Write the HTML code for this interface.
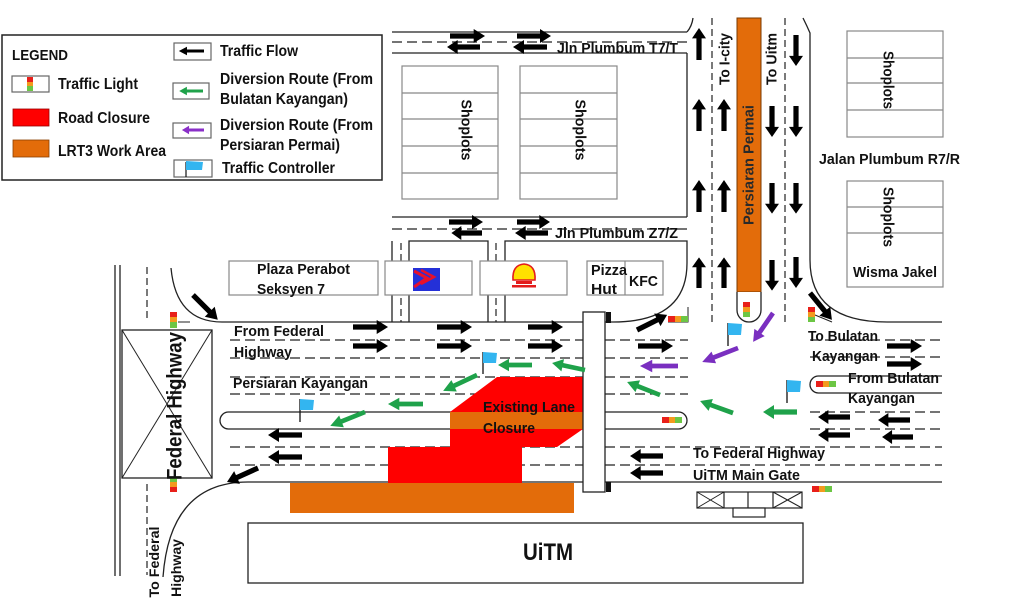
<!DOCTYPE html>
<html><head><meta charset="utf-8"><style>
html,body{margin:0;padding:0;background:#fff;}
svg{display:block;}
text{font-family:"Liberation Sans",Arial,sans-serif;font-weight:bold;fill:#111;}
</style></head><body>
<svg width="1024" height="609" viewBox="0 0 1024 609" xmlns="http://www.w3.org/2000/svg">
<defs>
<path id="ar" d="M0,-2.6 H23 V-7 L34,0 L23,7 V2.6 H0 Z"/>
</defs>
<rect width="1024" height="609" fill="#fff"/>

<!-- LEGEND -->
<rect x="2" y="35" width="380" height="145" fill="#fff" stroke="#222" stroke-width="1.5"/>
<text x="12" y="60" font-size="15" textLength="56" lengthAdjust="spacingAndGlyphs">LEGEND</text>
<rect x="12" y="76" width="37" height="16" fill="#fff" stroke="#666" stroke-width="1.2"/>
<rect x="27" y="77" width="6" height="5" fill="#e8201a"/><rect x="27" y="82" width="6" height="4" fill="#f39a1e"/><rect x="27" y="86" width="6" height="5" fill="#6cc644"/>
<text x="58" y="89" font-size="16" textLength="80" lengthAdjust="spacingAndGlyphs">Traffic Light</text>
<rect x="13" y="109" width="36" height="17" fill="#ff0000" stroke="#900" stroke-width="0.8"/>
<text x="58" y="123" font-size="16" textLength="92" lengthAdjust="spacingAndGlyphs">Road Closure</text>
<rect x="13" y="140" width="36" height="17" fill="#e36c0a" stroke="#8a4000" stroke-width="0.8"/>
<text x="58" y="156" font-size="16" textLength="108" lengthAdjust="spacingAndGlyphs">LRT3 Work Area</text>

<rect x="174" y="43" width="37" height="17" fill="#fff" stroke="#666" stroke-width="1.2"/>
<use href="#ar" fill="#000" transform="translate(204,51) rotate(180) scale(0.74,0.6)"/>
<text x="220" y="56" font-size="16" textLength="78" lengthAdjust="spacingAndGlyphs">Traffic Flow</text>
<rect x="173" y="83" width="36" height="16" fill="#fff" stroke="#666" stroke-width="1.2"/>
<use href="#ar" fill="#1fa24a" transform="translate(203,91) rotate(180) scale(0.7,0.6)"/>
<text x="220" y="84" font-size="16" textLength="153" lengthAdjust="spacingAndGlyphs">Diversion Route (From</text>
<text x="220" y="104" font-size="16" textLength="128" lengthAdjust="spacingAndGlyphs">Bulatan Kayangan)</text>
<rect x="173" y="123" width="38" height="15" fill="#fff" stroke="#666" stroke-width="1.2"/>
<use href="#ar" fill="#8a2fc8" transform="translate(204,130) rotate(180) scale(0.65,0.6)"/>
<text x="220" y="130" font-size="16" textLength="153" lengthAdjust="spacingAndGlyphs">Diversion Route (From</text>
<text x="220" y="150" font-size="16" textLength="120" lengthAdjust="spacingAndGlyphs">Persiaran Permai)</text>
<rect x="174" y="160" width="38" height="17" fill="#fff" stroke="#666" stroke-width="1.2"/>
<line x1="186" y1="162" x2="186" y2="177" stroke="#111" stroke-width="1.2"/>
<path d="M186,161 L203,162 L202,170 L186,170 Z" fill="#33b5f0"/>
<text x="222" y="173" font-size="16" textLength="113" lengthAdjust="spacingAndGlyphs">Traffic Controller</text>

<!-- ROAD LINES -->
<g stroke="#222" stroke-width="1.3" fill="none">
  <!-- T7/T road -->
  <line x1="392" y1="32" x2="687" y2="32"/>
  <line x1="392" y1="53" x2="687" y2="53"/>
  <path d="M687,32 Q692,26 693,18"/>
  <line x1="687" y1="53" x2="687" y2="217"/>
  <line x1="392" y1="217" x2="687" y2="217"/>
  <!-- blocks below Z7/Z -->
  <path d="M392,322 V241"/>
  <path d="M409,322 V241 H488 V322"/>
  <path d="M505,322 V241 H687 V263"/>
  <!-- main road top -->
  <path d="M171,268 Q176,322 222,322 H613 Q687,322 687,263"/>
  <!-- right side -->
  <path d="M803,18 Q807,26 810,33 V260 Q810,322 887,322 H942"/>
  <!-- main road bottom -->
  <path d="M942,482 H248 Q170,482 163,577"/>
  <!-- west capsule -->
  <path d="M228.5,412 H678.5 A8.5,8.5 0 0 1 678.5,429 H228.5 A8.5,8.5 0 0 1 228.5,412 Z" fill="#fff"/>
  <!-- east capsule -->
  <path d="M942,376 H818.5 A8.5,8.5 0 0 0 818.5,393 H942"/>
  <!-- Federal highway -->
  <line x1="115" y1="265" x2="115" y2="576"/>
  <line x1="120" y1="265" x2="120" y2="576"/>
  <rect x="122" y="330" width="90" height="148"/>
  <line x1="122" y1="330" x2="212" y2="478" stroke-width="1"/>
  <line x1="212" y1="330" x2="122" y2="478" stroke-width="1"/>
  <!-- traffic-light stop lines -->
  <path d="M178,322 H190" stroke-width="1"/>
  <path d="M178,478 H190" stroke-width="1"/>
  <path d="M688,307 V322 H668" stroke-width="1"/>
  <path d="M815,315 L832,322" stroke-width="1"/>
</g>

<!-- DASHED LINES -->
<g stroke="#222" stroke-width="1.2" fill="none" stroke-dasharray="10,5">
  <line x1="392" y1="42" x2="687" y2="42"/>
  <line x1="392" y1="229" x2="687" y2="229"/>
  <line x1="230" y1="340" x2="688" y2="340"/>
  <line x1="230" y1="358" x2="688" y2="358"/>
  <line x1="230" y1="377" x2="688" y2="377"/>
  <line x1="230" y1="394" x2="688" y2="394"/>
  <line x1="230" y1="447" x2="942" y2="447"/>
  <line x1="230" y1="465" x2="942" y2="465"/>
  <line x1="810" y1="340" x2="942" y2="340"/>
  <line x1="810" y1="357" x2="942" y2="357"/>
  <line x1="810" y1="412" x2="942" y2="412"/>
  <line x1="810" y1="429" x2="942" y2="429"/>
</g>
<g stroke="#222" stroke-width="1.2" fill="none" stroke-dasharray="7,4">
  <line x1="712" y1="18" x2="712" y2="322"/>
  <line x1="785" y1="18" x2="785" y2="322"/>
  <line x1="401" y1="243" x2="401" y2="322"/>
  <line x1="496" y1="243" x2="496" y2="322"/>
  <line x1="147" y1="267" x2="147" y2="322"/>
  <line x1="147" y1="484" x2="147" y2="575"/>
</g>

<!-- Persiaran Permai median -->
<rect x="737" y="18" width="24" height="274" fill="#e36c0a" stroke="#7a3a00" stroke-width="1"/>
<path d="M737,292 V310 A12,12 0 0 0 761,310 V292" fill="#fff" stroke="#222" stroke-width="1.3"/>

<!-- SHOPLOTS -->
<g stroke="#888" stroke-width="1.2" fill="#fff">
  <rect x="402" y="66" width="96" height="133"/>
  <path d="M402,93 H498 M402,119 H498 M402,146 H498 M402,173 H498"/>
  <rect x="520" y="66" width="97" height="133"/>
  <path d="M520,93 H617 M520,119 H617 M520,146 H617 M520,173 H617"/>
  <rect x="847" y="31" width="96" height="106"/>
  <path d="M847,58 H943 M847,83 H943 M847,110 H943"/>
  <rect x="847" y="181" width="96" height="106"/>
  <path d="M847,207 H943 M847,233 H943"/>
  <rect x="229" y="261" width="149" height="34"/>
  <rect x="385" y="261" width="87" height="34"/>
  <rect x="480" y="261" width="87" height="34"/>
  <rect x="587" y="261" width="76" height="34"/>
  <line x1="625" y1="261" x2="625" y2="295"/>
</g>

<!-- logos -->
<rect x="413" y="268" width="27" height="23" fill="#2430d8"/>
<path d="M414,271 L427,278 L414,287" stroke="#e8102a" stroke-width="3" fill="none"/>
<path d="M421,270 L434,277 L421,284" stroke="#e8102a" stroke-width="2.5" fill="none"/>
<path d="M513,280 Q512,265 524,264 Q536,265 535,280 Z" fill="#ffe100" stroke="#e31c1c" stroke-width="1.6"/>
<rect x="516" y="281" width="16" height="3" fill="#e31c1c"/>
<rect x="512" y="285" width="24" height="2.5" fill="#e31c1c"/>

<!-- ROAD CLOSURE / LRT -->
<polygon points="450,412 497,377 583,377 583,429 557,447 522,447 522,483 388,483 388,447 450,447" fill="#ff0000"/>
<rect x="450" y="412" width="133" height="17" fill="#e36c0a"/>
<rect x="290" y="483" width="284" height="30" fill="#e36c0a"/>

<!-- Bridge -->
<rect x="583" y="312" width="22" height="180" fill="#fff" stroke="#222" stroke-width="1.3"/>
<rect x="606" y="312" width="5" height="11" fill="#111"/>
<rect x="606" y="482" width="5" height="10" fill="#111"/>

<!-- UiTM -->
<rect x="248" y="523" width="555" height="60" fill="#fff" stroke="#222" stroke-width="1.3"/>
<text x="548" y="560" font-size="24" text-anchor="middle" textLength="50" lengthAdjust="spacingAndGlyphs">UiTM</text>
<g stroke="#222" stroke-width="1.2" fill="#fff">
  <rect x="697" y="492" width="105" height="16"/>
  <path d="M724,492 V508 M748,492 V508 M773,492 V508"/>
  <path d="M697,492 L724,508 M724,492 L697,508 M773,492 L802,508 M802,492 L773,508" stroke-width="1"/>
  <rect x="733" y="508" width="32" height="9"/>
</g>

<!-- TRAFFIC LIGHTS -->
<g>
  <rect x="170" y="312" width="7" height="5" fill="#e8201a"/><rect x="170" y="317" width="7" height="5" fill="#f39a1e"/><rect x="170" y="322" width="7" height="6" fill="#6cc644"/>
  <rect x="170" y="477" width="7" height="5" fill="#6cc644"/><rect x="170" y="482" width="7" height="5" fill="#f39a1e"/><rect x="170" y="487" width="7" height="5" fill="#e8201a"/>
  <rect x="743" y="302" width="7" height="5" fill="#e8201a"/><rect x="743" y="307" width="7" height="5" fill="#f39a1e"/><rect x="743" y="312" width="7" height="5" fill="#6cc644"/>
  <rect x="808" y="307" width="7" height="5" fill="#e8201a"/><rect x="808" y="312" width="7" height="5" fill="#f39a1e"/><rect x="808" y="317" width="7" height="5" fill="#6cc644"/>
  <rect x="668" y="316" width="7" height="6" fill="#e8201a"/><rect x="675" y="316" width="6" height="6" fill="#f39a1e"/><rect x="681" y="316" width="7" height="6" fill="#6cc644"/>
  <rect x="816" y="381" width="7" height="6" fill="#e8201a"/><rect x="823" y="381" width="6" height="6" fill="#f39a1e"/><rect x="829" y="381" width="7" height="6" fill="#6cc644"/>
  <rect x="662" y="417" width="7" height="6" fill="#e8201a"/><rect x="669" y="417" width="6" height="6" fill="#f39a1e"/><rect x="675" y="417" width="7" height="6" fill="#6cc644"/>
  <rect x="812" y="486" width="7" height="6" fill="#e8201a"/><rect x="819" y="486" width="6" height="6" fill="#f39a1e"/><rect x="825" y="486" width="7" height="6" fill="#6cc644"/>
</g>

<!-- FLAGS -->
<g stroke="#111" stroke-width="1.3">
  <line x1="728" y1="323" x2="728" y2="346"/>
  <line x1="787" y1="380" x2="787" y2="403"/>
  <line x1="483" y1="352" x2="483" y2="374"/>
  <line x1="300" y1="399" x2="300" y2="422"/>
</g>
<g fill="#33b5f0">
  <path d="M728,323 L742,324 L741,335 L728,335 Z"/>
  <path d="M787,380 L801,381 L800,392 L787,392 Z"/>
  <path d="M483,352 L497,353 L496,363 L483,363 Z"/>
  <path d="M300,399 L314,400 L313,410 L300,410 Z"/>
</g>

<!-- BLACK ARROWS -->
<g fill="#000">
  <use href="#ar" transform="translate(450,36) scale(1.03,1)"/>
  <use href="#ar" transform="translate(517,36)"/>
  <use href="#ar" transform="translate(480,47) rotate(180) scale(0.97,1)"/>
  <use href="#ar" transform="translate(547,47) rotate(180)"/>
  <use href="#ar" transform="translate(449,222)"/>
  <use href="#ar" transform="translate(517,222) scale(0.97,1)"/>
  <use href="#ar" transform="translate(482,233) rotate(180) scale(0.9,1)"/>
  <use href="#ar" transform="translate(548,233) rotate(180) scale(0.97,1)"/>
  <use href="#ar" transform="translate(353,327) scale(1.03,1)"/>
  <use href="#ar" transform="translate(437,327) scale(1.03,1)"/>
  <use href="#ar" transform="translate(528,327) scale(1.03,1)"/>
  <use href="#ar" transform="translate(353,346) scale(1.03,1)"/>
  <use href="#ar" transform="translate(437,346) scale(1.03,1)"/>
  <use href="#ar" transform="translate(528,346) scale(1.03,1)"/>
  <use href="#ar" transform="translate(638,346) scale(1.03,1)"/>
  <use href="#ar" transform="translate(887,346) scale(1.03,1)"/>
  <use href="#ar" transform="translate(887,364) scale(1.03,1)"/>
  <use href="#ar" transform="translate(850,417) rotate(180) scale(0.94,1)"/>
  <use href="#ar" transform="translate(910,420) rotate(180) scale(0.94,1)"/>
  <use href="#ar" transform="translate(850,435) rotate(180) scale(0.94,1)"/>
  <use href="#ar" transform="translate(913,437) rotate(180) scale(0.91,1)"/>
  <use href="#ar" transform="translate(663,456) rotate(180) scale(0.97,1)"/>
  <use href="#ar" transform="translate(663,473) rotate(180) scale(0.97,1)"/>
  <use href="#ar" transform="translate(302,435) rotate(180)"/>
  <use href="#ar" transform="translate(302,457) rotate(180)"/>
  <use href="#ar" transform="translate(193,295) rotate(45) scale(1.03,1)"/>
  <use href="#ar" transform="translate(637,330) rotate(-26.6) scale(0.99,1)"/>
  <use href="#ar" transform="translate(810,293) rotate(50.8) scale(1.02,1)"/>
  <use href="#ar" transform="translate(258,468) rotate(155.7)"/>
  <use href="#ar" transform="translate(699,60) rotate(-90) scale(0.94,1)"/>
  <use href="#ar" transform="translate(699,131) rotate(-90) scale(0.94,1)"/>
  <use href="#ar" transform="translate(699,212) rotate(-90) scale(0.94,1)"/>
  <use href="#ar" transform="translate(699,288) rotate(-90) scale(0.9,1)"/>
  <use href="#ar" transform="translate(724,131) rotate(-90) scale(0.94,1)"/>
  <use href="#ar" transform="translate(724,212) rotate(-90) scale(0.94,1)"/>
  <use href="#ar" transform="translate(724,288) rotate(-90) scale(0.9,1)"/>
  <use href="#ar" transform="translate(772,106) rotate(90) scale(0.91,1)"/>
  <use href="#ar" transform="translate(772,183) rotate(90) scale(0.9,1)"/>
  <use href="#ar" transform="translate(772,260) rotate(90) scale(0.9,1)"/>
  <use href="#ar" transform="translate(796,35) rotate(90) scale(0.91,1)"/>
  <use href="#ar" transform="translate(796,106) rotate(90) scale(0.91,1)"/>
  <use href="#ar" transform="translate(796,183) rotate(90) scale(0.9,1)"/>
  <use href="#ar" transform="translate(796,257) rotate(90) scale(0.91,1)"/>
</g>

<!-- GREEN ARROWS -->
<g fill="#1fa24a">
  <use href="#ar" transform="translate(797,412) rotate(180)"/>
  <use href="#ar" transform="translate(733,413) rotate(200) scale(1.03,0.9)"/>
  <use href="#ar" transform="translate(660,395) rotate(201.5) scale(1.04,0.9)"/>
  <use href="#ar" transform="translate(585,370) rotate(192) scale(0.99,0.9)"/>
  <use href="#ar" transform="translate(532,365) rotate(180) scale(1,0.9)"/>
  <use href="#ar" transform="translate(477,375) rotate(154.8) scale(1.1,0.9)"/>
  <use href="#ar" transform="translate(423,404) rotate(180) scale(1.03,0.9)"/>
  <use href="#ar" transform="translate(365,412) rotate(158.2) scale(1.1,0.9)"/>
</g>

<!-- PURPLE ARROWS -->
<g fill="#7a2fc0">
  <use href="#ar" transform="translate(773,313) rotate(124.6) scale(1.03,0.9)"/>
  <use href="#ar" transform="translate(738,348) rotate(158.7) scale(1.13,0.9)"/>
  <use href="#ar" transform="translate(678,366) rotate(180) scale(1.12,0.9)"/>
</g>

<!-- MAP LABELS -->
<g font-size="15">
  <text x="557" y="53" textLength="121" lengthAdjust="spacingAndGlyphs">Jln Plumbum T7/T</text>
  <text x="555" y="238" textLength="123" lengthAdjust="spacingAndGlyphs">Jln Plumbum Z7/Z</text>
  <text x="257" y="274" textLength="93" lengthAdjust="spacingAndGlyphs">Plaza Perabot</text>
  <text x="257" y="294" textLength="68" lengthAdjust="spacingAndGlyphs">Seksyen 7</text>
  <text x="591" y="275" textLength="36" lengthAdjust="spacingAndGlyphs">Pizza</text>
  <text x="591" y="294" textLength="26" lengthAdjust="spacingAndGlyphs">Hut</text>
  <text x="629" y="286" textLength="29" lengthAdjust="spacingAndGlyphs">KFC</text>
  <text x="819" y="164" textLength="141" lengthAdjust="spacingAndGlyphs">Jalan Plumbum R7/R</text>
  <text x="853" y="277" textLength="84" lengthAdjust="spacingAndGlyphs">Wisma Jakel</text>
  <text x="234" y="336" textLength="90" lengthAdjust="spacingAndGlyphs">From Federal</text>
  <text x="234" y="357" textLength="58" lengthAdjust="spacingAndGlyphs">Highway</text>
  <text x="233" y="388" textLength="135" lengthAdjust="spacingAndGlyphs">Persiaran Kayangan</text>
  <text x="483" y="412" textLength="92" lengthAdjust="spacingAndGlyphs">Existing Lane</text>
  <text x="483" y="433" textLength="52" lengthAdjust="spacingAndGlyphs">Closure</text>
  <text x="808" y="341" textLength="70" lengthAdjust="spacingAndGlyphs">To Bulatan</text>
  <text x="812" y="361" textLength="66" lengthAdjust="spacingAndGlyphs">Kayangan</text>
  <text x="848" y="383" textLength="91" lengthAdjust="spacingAndGlyphs">From Bulatan</text>
  <text x="848" y="403" textLength="67" lengthAdjust="spacingAndGlyphs">Kayangan</text>
  <text x="693" y="458" textLength="132" lengthAdjust="spacingAndGlyphs">To Federal Highway</text>
  <text x="693" y="480" textLength="107" lengthAdjust="spacingAndGlyphs">UiTM Main Gate</text>
</g>

<!-- ROTATED LABELS -->
<g font-size="15" text-anchor="middle" dominant-baseline="central">
  <text transform="translate(466,130) rotate(90)" textLength="61" lengthAdjust="spacingAndGlyphs">Shoplots</text>
  <text transform="translate(580,130) rotate(90)" textLength="61" lengthAdjust="spacingAndGlyphs">Shoplots</text>
  <text transform="translate(888,80) rotate(90)" textLength="58" lengthAdjust="spacingAndGlyphs">Shoplots</text>
  <text transform="translate(888,217) rotate(90)" textLength="60" lengthAdjust="spacingAndGlyphs">Shoplots</text>
  <text transform="translate(749,165) rotate(-90)" textLength="120" lengthAdjust="spacingAndGlyphs" style="fill:#2a2a2a">Persiaran  Permai</text>
  <text transform="translate(725,59) rotate(-90)" textLength="52" lengthAdjust="spacingAndGlyphs">To I-city</text>
  <text transform="translate(772,59) rotate(-90)" textLength="52" lengthAdjust="spacingAndGlyphs">To Uitm</text>
  <text transform="translate(175,406) rotate(-90)" font-size="21" textLength="148" lengthAdjust="spacingAndGlyphs">Federal Highway</text>
  <text transform="translate(154,562) rotate(-90)" font-size="14" textLength="71" lengthAdjust="spacingAndGlyphs">To Federal</text>
  <text transform="translate(176,568) rotate(-90)" font-size="14" textLength="58" lengthAdjust="spacingAndGlyphs">Highway</text>
</g>
</svg>
</body></html>
